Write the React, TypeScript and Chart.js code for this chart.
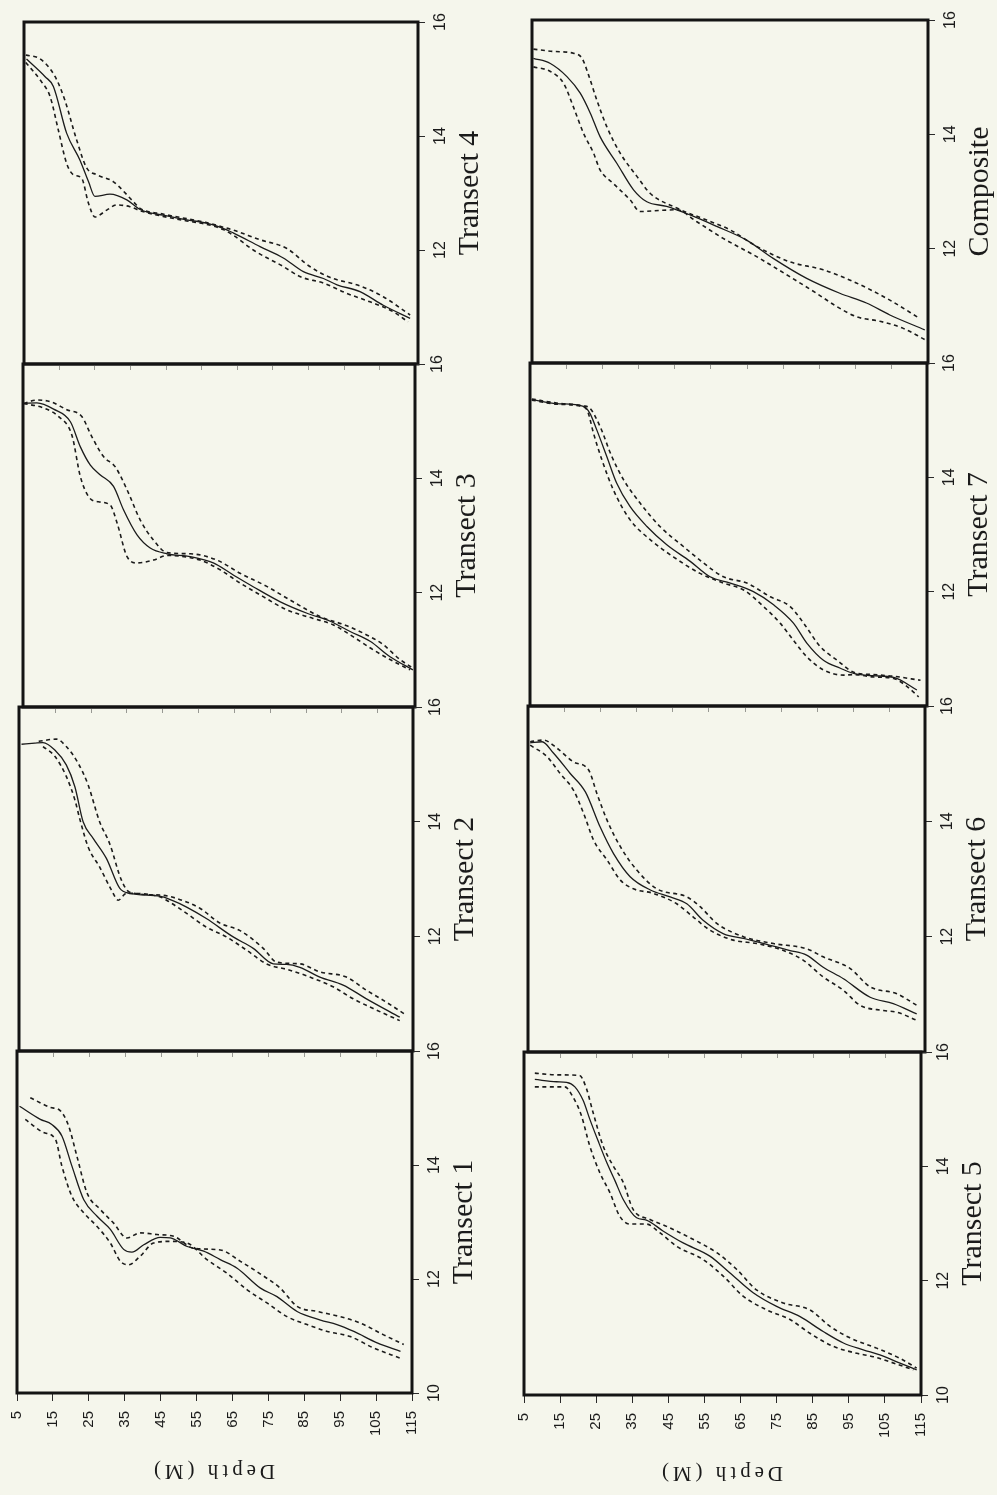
import React, { useEffect, useRef } from "react";
import { Chart, registerables } from "chart.js";

Chart.register(...registerables);

// ---------- axis values ----------
const DEPTH_MIN = 5;
const DEPTH_MAX = 115;
const DEPTH_STEP = 10;
const TEMP_MIN = 10;
const TEMP_MAX = 16;
const TEMP_TICKS = [10, 12, 14, 16];
const DEPTH_TITLE = "Depth (M)";

// ---------- data: [depth (m), temperature (°C)] ----------
const t4Mean = [[5.7,15.35],[10.9,15.04],[13.2,14.87],[16.9,14.05],[20.6,13.58],[23,13.2],[24.8,12.94],[29,12.98],[33.7,12.88],[37.4,12.71],[43.8,12.61],[50.4,12.53],[56,12.47],[60.6,12.38],[63.4,12.3],[70.9,12.06],[77.4,11.86],[83,11.62],[88.6,11.5],[92.4,11.39],[98.8,11.27],[105.3,11.03],[112.8,10.8]];
const t4Upper = [[5.5,15.42],[9.6,15.35],[13.7,15.04],[16.4,14.63],[19.7,13.93],[22.5,13.44],[25.3,13.32],[29.9,13.2],[35.5,12.85],[37.4,12.73],[43.8,12.63],[50.4,12.55],[56,12.48],[60.6,12.4],[63.4,12.35],[70.9,12.18],[78.3,12.03],[84.8,11.71],[90.4,11.52],[98.8,11.37],[105.3,11.18],[112.8,10.86]];
const t4Lower = [[5.5,15.29],[9.9,14.95],[12.3,14.69],[14.6,14.1],[16.9,13.52],[18.8,13.32],[21.1,13.26],[23,12.82],[24.8,12.58],[28.1,12.7],[30.9,12.79],[34.6,12.76],[37.4,12.69],[43.8,12.59],[50.4,12.51],[56,12.45],[60.6,12.36],[63.4,12.26],[69,12.0],[77.4,11.71],[82.2,11.53],[88.6,11.42],[95.1,11.24],[101.6,11.09],[108,10.92],[112.2,10.74]];

const t3Mean = [[5.2,15.31],[8.9,15.32],[13.6,15.21],[18.3,14.99],[21.1,14.55],[23.9,14.23],[26.7,14.06],[30.4,13.86],[33.2,13.45],[37,13.01],[40.7,12.78],[45.4,12.68],[51.9,12.63],[58.4,12.52],[64,12.31],[69.7,12.1],[77.2,11.84],[84.7,11.64],[91.2,11.5],[96.8,11.32],[102.4,11.15],[108,10.88],[114.4,10.65]];
const t3Upper = [[5.2,15.31],[8.9,15.37],[12.7,15.34],[17.3,15.2],[21.5,15.08],[24.3,14.73],[27.6,14.38],[30.9,14.2],[34.2,13.8],[37.9,13.27],[41.6,12.92],[45.4,12.7],[52,12.68],[59.4,12.57],[65.9,12.34],[73.4,12.11],[80.8,11.84],[88.4,11.58],[95.9,11.42],[102.4,11.23],[106.1,11.09],[110.8,10.83],[114.4,10.68]];
const t3Lower = [[5.2,15.31],[10.8,15.23],[15,15.08],[18.7,14.76],[21.1,14.03],[23.4,13.68],[26.2,13.59],[29.5,13.53],[31.4,13.22],[34.2,12.63],[37,12.52],[41.6,12.57],[45.4,12.65],[54.7,12.57],[60.3,12.4],[65.9,12.17],[72.4,11.93],[79,11.7],[86.4,11.55],[92,11.44],[97.6,11.23],[103.3,11.0],[108,10.83],[113.6,10.65]];

const t2Mean = [[5.7,15.35],[9.4,15.37],[11.7,15.38],[15,15.25],[18.2,14.99],[20.6,14.61],[22.9,14.0],[25.7,13.71],[29.4,13.36],[33.1,12.84],[35.9,12.75],[44.3,12.7],[47.6,12.63],[51.8,12.51],[57.3,12.31],[64.8,11.99],[70.4,11.79],[76,11.52],[79.7,11.51],[83.4,11.46],[89,11.29],[95.5,11.15],[102,10.91],[111.3,10.59]];
const t2Upper = [[10.5,15.4],[15.4,15.44],[18.2,15.31],[21.5,15.02],[24.3,14.64],[27.5,14.0],[30.3,13.62],[33.6,12.98],[35.9,12.77],[44.3,12.72],[48,12.68],[55.5,12.49],[61.1,12.23],[66.7,12.1],[73.2,11.79],[76.9,11.55],[83.4,11.52],[89,11.38],[96.4,11.29],[102,11.06],[107.6,10.85],[113.2,10.62]];
const t2Lower = [[11.7,15.31],[15,15.14],[18.2,14.79],[20.6,14.38],[22,14.04],[24.3,13.56],[27.5,13.21],[30.8,12.81],[32.7,12.63],[35,12.75],[44.3,12.69],[46.2,12.63],[51.8,12.4],[57.3,12.16],[62.9,11.99],[68.5,11.76],[74.1,11.52],[80.6,11.41],[86.2,11.29],[92.7,11.12],[98.3,10.91],[103.9,10.74],[111.3,10.53]];

const t1Mean = [[5.7,15.03],[11.5,14.8],[14.7,14.71],[17.5,14.51],[20.3,13.98],[23.6,13.39],[27.3,13.1],[31,12.87],[34.7,12.52],[37,12.47],[40.3,12.6],[44.9,12.73],[47.7,12.72],[52.4,12.57],[57,12.49],[61.6,12.34],[66.3,12.19],[72.8,11.84],[77.4,11.69],[83,11.43],[89.5,11.28],[94.1,11.2],[98.8,11.08],[105.3,10.88],[111.8,10.73]];
const t1Upper = [[8.7,15.18],[14.3,15.01],[17.1,14.95],[19.4,14.68],[21.7,14.15],[24.5,13.51],[28.2,13.22],[31.9,12.98],[35.6,12.72],[39.3,12.81],[44,12.78],[48.6,12.75],[54.2,12.54],[61.6,12.51],[67.2,12.31],[73.7,12.05],[78.3,11.84],[83,11.52],[88.6,11.43],[95,11.34],[100.5,11.23],[107.1,11.02],[112.7,10.85]];
const t1Lower = [[7.3,14.8],[12.4,14.57],[15.7,14.45],[17.5,13.98],[20.3,13.45],[23.6,13.16],[27.3,12.92],[31,12.63],[33.8,12.31],[36.1,12.25],[39.3,12.4],[43,12.63],[47.7,12.66],[52.4,12.63],[57.9,12.34],[63.5,12.1],[69.1,11.81],[74.6,11.58],[80.2,11.34],[85.8,11.2],[91.4,11.08],[97.8,10.99],[104.3,10.79],[111.8,10.61]];

const compMean = [[5.4,15.33],[10.1,15.24],[14.7,15.01],[18.4,14.72],[21.2,14.37],[23.9,13.96],[28.6,13.49],[33.2,13.03],[36.9,12.82],[42.4,12.74],[48.9,12.59],[56.3,12.39],[64.6,12.15],[72,11.83],[81.3,11.48],[90.5,11.22],[97.9,11.05],[104.4,10.84],[114.1,10.58]];
const compUpper = [[5.4,15.49],[11,15.45],[16.5,15.42],[18.9,15.33],[20.7,15.04],[23,14.6],[25.8,14.13],[29.5,13.67],[34.2,13.26],[37.8,12.97],[45.2,12.71],[53.5,12.5],[60,12.33],[67.4,12.04],[76.6,11.77],[85.9,11.63],[95.1,11.4],[104.4,11.1],[112.7,10.78]];
const compLower = [[5.4,15.18],[10.1,15.1],[13.8,14.89],[16.5,14.48],[19.3,14.02],[22.1,13.67],[23.9,13.38],[27.6,13.14],[32.3,12.85],[35,12.65],[40.6,12.67],[45.2,12.68],[50.8,12.47],[58.1,12.18],[67.4,11.86],[76.6,11.51],[84,11.22],[89.6,10.99],[95.1,10.81],[101.6,10.73],[108,10.61],[114.1,10.41]];

const t7Mean = [[5.5,15.36],[12.4,15.29],[19.8,15.24],[21.6,15.12],[23.5,14.83],[26.3,14.36],[29,13.9],[32.7,13.49],[37.4,13.14],[42.9,12.82],[49.4,12.53],[54.9,12.26],[60.5,12.15],[66.9,12.0],[72.5,11.77],[78,11.45],[81.7,11.1],[86.3,10.8],[91,10.66],[94.7,10.57],[100,10.53],[105.8,10.5],[112.2,10.28]];
const t7Upper = [[5.5,15.37],[12.4,15.3],[19.8,15.25],[21.6,15.21],[24.4,14.89],[27.7,14.36],[30.9,13.96],[35.5,13.55],[41,13.14],[47.5,12.79],[53.1,12.5],[58.6,12.26],[65.1,12.15],[71.6,11.91],[77.1,11.74],[80.8,11.45],[85.4,11.04],[90.1,10.8],[94.7,10.59],[100,10.55],[105.8,10.52],[113.2,10.45]];
const t7Lower = [[5.5,15.35],[12.4,15.28],[19.8,15.23],[21,15.15],[22.6,14.77],[24.9,14.31],[28.1,13.78],[32.7,13.26],[38.3,12.91],[44.7,12.61],[52.1,12.32],[58.6,12.15],[64.2,12.03],[69.7,11.74],[74.3,11.45],[78,11.15],[81.7,10.86],[86.3,10.63],[91.9,10.54],[94.7,10.55],[100,10.51],[105.8,10.48],[109.5,10.34],[112.7,10.16]];

const t6Mean = [[5.6,15.36],[8.9,15.38],[12.1,15.18],[16.7,14.83],[20.9,14.51],[25,13.9],[28.7,13.44],[33.3,13.04],[38.9,12.81],[44.4,12.69],[49,12.57],[53.6,12.28],[59.2,12.05],[64.7,11.97],[72.1,11.85],[77.6,11.76],[82.2,11.68],[86.8,11.47],[92.4,11.27],[99.8,10.95],[106.2,10.84],[112.7,10.66]];
const t6Upper = [[5.6,15.38],[9.3,15.41],[13,15.27],[17.6,15.03],[21.8,14.89],[24.1,14.48],[26.9,14.02],[30.6,13.56],[35.2,13.15],[40.7,12.83],[49,12.69],[52.7,12.52],[57.3,12.23],[64.7,12.0],[73,11.88],[82.2,11.79],[86.8,11.65],[94.2,11.45],[99.8,11.13],[107.2,11.01],[112.7,10.81]];
const t6Lower = [[5.6,15.32],[10.3,15.12],[13.9,14.83],[17.6,14.54],[20.4,14.14],[23.2,13.67],[26.9,13.33],[30.6,12.98],[34.2,12.83],[39.8,12.75],[46.2,12.57],[50.8,12.34],[55.5,12.11],[61.9,11.94],[68.4,11.88],[75.8,11.76],[81.3,11.59],[86.8,11.3],[92.4,11.07],[97,10.81],[103.5,10.72],[107.2,10.69],[112.7,10.55]];

const t5Mean = [[8,15.52],[14,15.48],[16.8,15.47],[19.1,15.39],[21.4,15.15],[23.2,14.83],[25.5,14.45],[27.9,14.07],[30.2,13.75],[32.5,13.42],[36.2,13.1],[38.9,13.06],[43.5,12.87],[49.1,12.66],[56.5,12.43],[62,12.14],[68.5,11.79],[75,11.55],[81.5,11.37],[87.9,11.11],[93.5,10.91],[99,10.79],[103.6,10.7],[108.3,10.58],[113.8,10.44]];
const t5Upper = [[8,15.63],[14,15.6],[20.4,15.59],[22.3,15.36],[24.1,14.95],[26.9,14.36],[29.7,14.01],[32.5,13.72],[35.2,13.25],[39.9,13.07],[44.5,12.95],[51,12.75],[58.4,12.49],[63.9,12.2],[69.4,11.84],[76.8,11.61],[84.2,11.49],[89.8,11.2],[95.3,11.0],[102.7,10.82],[109.2,10.64],[113.8,10.47]];
const t5Lower = [[8,15.39],[16.3,15.39],[18.6,15.21],[20.9,14.89],[23.2,14.36],[26,13.89],[28.8,13.54],[31.5,13.13],[34.3,12.99],[38.9,12.99],[42.6,12.84],[47.3,12.6],[54.6,12.37],[60.2,12.08],[65.7,11.73],[72.2,11.49],[78.7,11.32],[84.2,11.08],[90.7,10.85],[97.2,10.73],[101.8,10.67],[106.4,10.58],[112.9,10.44]];

const TITLES = ["Transect 4", "Transect 3", "Transect 2", "Transect 1", "Composite", "Transect 7", "Transect 6", "Transect 5"];
const SERIES = [
  [t4Mean, t4Upper, t4Lower],
  [t3Mean, t3Upper, t3Lower],
  [t2Mean, t2Upper, t2Lower],
  [t1Mean, t1Upper, t1Lower],
  [compMean, compUpper, compLower],
  [t7Mean, t7Upper, t7Lower],
  [t6Mean, t6Upper, t6Lower],
  [t5Mean, t5Upper, t5Lower],
];

// ---------- layout (plot frames: left, top, right, bottom in px) ----------
const FRAMES = [
  [24, 22, 418, 364],
  [23, 364, 415, 707],
  [19, 707, 413, 1051],
  [17, 1051, 412, 1393],
  [532, 20, 928, 363],
  [530, 363, 927, 706],
  [528, 706, 925, 1052],
  [524, 1052, 921, 1395],
];

const INK = "#1b1b1b";
const PAPER = "#f5f6ec";

type PanelProps = { idx: number };

function Panel({ idx }: PanelProps) {
  const ref = useRef<HTMLCanvasElement>(null);
  const [L, T, R, B] = FRAMES[idx];
  const isTop = idx % 4 === 0;
  const isBottom = idx % 4 === 3;
  const padL = 20;
  const padT = 12;
  const axisW = 68;
  const xAxisH = 50;
  const canvasLeft = L - padL;
  const canvasTop = T - padT;
  const canvasW = R - L + padL + axisW;
  const canvasBottom = isBottom ? 1494 : B + 12;
  const canvasH = canvasBottom - canvasTop;
  const padB = isBottom ? canvasBottom - B - xAxisH : canvasBottom - B;

  useEffect(() => {
    const title = TITLES[idx];
    const [mean, upper, lower] = SERIES[idx];
    const toXY = (arr: number[][]) => arr.map(([d, t]) => ({ x: d, y: t }));

    const deco = {
      id: "deco",
      afterDraw(chart: any) {
        const { ctx, chartArea: a, scales } = chart;
        ctx.save();
        // frame
        ctx.strokeStyle = "#141414";
        ctx.lineWidth = 3;
        ctx.strokeRect(a.left, a.top, a.right - a.left, a.bottom - a.top);
        // faint inner depth ticks along the top edge
        if (!isTop) {
          ctx.lineWidth = 1;
          ctx.strokeStyle = "rgba(40,40,40,0.45)";
          for (let d = DEPTH_MIN + DEPTH_STEP; d < DEPTH_MAX; d += DEPTH_STEP) {
            const x = Math.round(scales.x.getPixelForValue(d)) + 0.5;
            ctx.beginPath();
            ctx.moveTo(x, a.top + 2);
            ctx.lineTo(x, a.top + 6);
            ctx.stroke();
          }
        }
        // temperature tick labels (rotated)
        ctx.fillStyle = INK;
        ctx.font = '16px "Liberation Sans"';
        ctx.textAlign = "center";
        ctx.textBaseline = "middle";
        for (const t of TEMP_TICKS) {
          if (t === TEMP_MIN && !isBottom) continue;
          const y = scales.y.getPixelForValue(t);
          ctx.save();
          ctx.translate(a.right + 23, y);
          ctx.rotate(-Math.PI / 2);
          ctx.fillText(String(t), 0, 0);
          ctx.restore();
        }
        // panel title
        ctx.save();
        ctx.font = '30px "Liberation Serif"';
        ctx.textAlign = "center";
        ctx.textBaseline = "alphabetic";
        ctx.translate(a.right + 60, (a.top + a.bottom) / 2);
        ctx.rotate(-Math.PI / 2);
        ctx.fillText(title, 0, 0);
        ctx.restore();
        // depth axis title (upside down)
        if (isBottom) {
          ctx.save();
          ctx.font = '21px "Liberation Serif"';
          (ctx as any).letterSpacing = "4px";
          ctx.textAlign = "center";
          ctx.textBaseline = "middle";
          ctx.translate((a.left + a.right) / 2 - 2, a.bottom + 78);
          ctx.rotate(Math.PI);
          ctx.fillText(DEPTH_TITLE, 0, 0);
          ctx.restore();
        }
        ctx.restore();
      },
    };

    const base = {
      borderColor: INK,
      pointRadius: 0,
      fill: false,
      cubicInterpolationMode: "monotone" as const,
    };

    const chart = new Chart(ref.current as HTMLCanvasElement, {
      type: "line",
      data: {
        datasets: [
          { ...base, data: toXY(mean), borderWidth: 1.3 },
          { ...base, data: toXY(upper), borderWidth: 1.6, borderDash: [4, 3.5] },
          { ...base, data: toXY(lower), borderWidth: 1.6, borderDash: [4, 3.5] },
        ],
      },
      options: {
        animation: false,
        responsive: false,
        maintainAspectRatio: false,
        layout: { padding: { left: padL, top: padT, right: 0, bottom: padB } },
        plugins: { legend: { display: false }, tooltip: { enabled: false } },
        scales: {
          x: {
            type: "linear",
            position: "bottom",
            display: isBottom,
            min: DEPTH_MIN,
            max: DEPTH_MAX,
            border: { display: false },
            grid: { drawOnChartArea: false, drawTicks: true, tickLength: 8, color: "#2a2a2a", lineWidth: 1 },
            ticks: {
              stepSize: DEPTH_STEP,
              autoSkip: false,
              minRotation: 90,
              maxRotation: 90,
              padding: 10,
              color: INK,
              font: { family: "Liberation Sans", size: 15 },
            },
            afterFit: (s: any) => {
              s.height = isBottom ? xAxisH : 0;
            },
          },
          y: {
            type: "linear",
            position: "right",
            min: TEMP_MIN,
            max: TEMP_MAX,
            border: { display: false },
            grid: { drawOnChartArea: false, drawTicks: true, tickLength: 7, color: "#2a2a2a", lineWidth: 1 },
            ticks: { stepSize: 2, display: false },
            afterFit: (s: any) => {
              s.width = axisW;
            },
          },
        },
      },
      plugins: [deco],
    });
    return () => chart.destroy();
  }, []);

  return (
    <canvas
      ref={ref}
      width={canvasW}
      height={canvasH}
      style={{ position: "absolute", left: canvasLeft, top: canvasTop, width: canvasW, height: canvasH }}
    />
  );
}

export default function App() {
  return (
    <div
      style={{
        position: "absolute",
        left: 0,
        top: 0,
        width: 997,
        height: 1495,
        background: PAPER,
        overflow: "hidden",
      }}
    >
      {FRAMES.map((_, i) => (
        <Panel key={i} idx={i} />
      ))}
    </div>
  );
}
